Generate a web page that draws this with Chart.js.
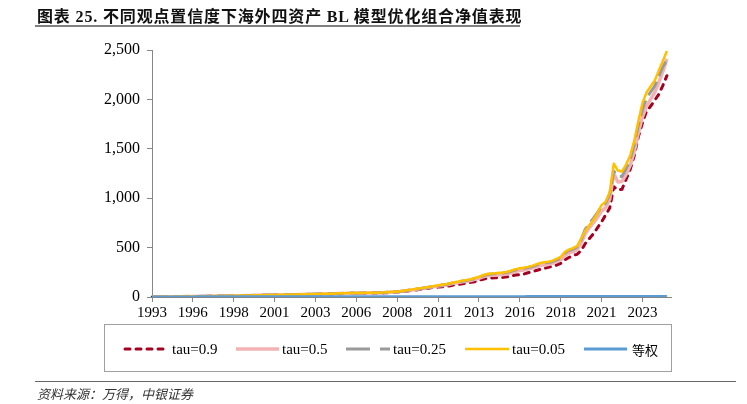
<!DOCTYPE html>
<html>
<head>
<meta charset="utf-8">
<script src="https://cdn.jsdelivr.net/npm/chart.js@4.4.1/dist/chart.umd.min.js"></script>
<style>
  html,body{margin:0;padding:0;background:#fff;}
  #wrap{position:relative;width:747px;height:404px;overflow:hidden;}
  #c{position:absolute;left:0;top:0;}
  #title{position:absolute;left:37px;top:3px;font:bold 16px "Liberation Serif","Noto Sans CJK SC",serif;color:#111;white-space:nowrap;letter-spacing:0.85px;}
  #tline{position:absolute;left:35px;top:25px;width:485px;height:2px;background:#808080;}
  #sline{position:absolute;left:35px;top:381px;width:701px;height:1px;background:#666;}
  #src{position:absolute;left:37px;top:384px;font:italic 13px "Noto Sans CJK SC",sans-serif;color:#333;white-space:nowrap;}
</style>
</head>
<body>
<div id="wrap">
  <canvas id="c" width="747" height="404"></canvas>
  <div id="title">图表 25. 不同观点置信度下海外四资产 BL 模型优化组合净值表现</div>
  <div id="tline"></div>
  <div id="sline"></div>
  <div id="src">资料来源：万得，中银证券</div>
</div>
<script>
// Quarterly categories, 1993Q3 .. 2025Q2 (last one has no data)
const startYear = 1993, startQuarter = 3, nCategories = 128;
const categories = [];
for (let i = 0; i < nCategories; i++) {
  const q = startQuarter - 1 + i;
  categories.push((startYear + Math.floor(q / 4)) + 'Q' + (q % 4 + 1));
}
const labelEvery = 10;
const yTicks = [0, 500, 1000, 1500, 2000, 2500];

const tau09 = [
  1,1.2,1.5,1.8,2.2,2.5,3,3.4,3.9,4.4,
  5,5.6,6.2,6.8,7.4,8.1,8.8,9.5,10.2,10.8,
  11.5,12.2,12.8,13.5,14.4,15.3,16.2,16.7,17.6,18,
  19,19.8,20.3,20.7,21.6,22.5,23.4,24.3,25.2,26,
  27,28,28.8,29.7,30.6,32,33.3,34.2,35.5,37,
  36,37,38,39,40,40,41,42,45,47,
  50,54,58,63,68,74,79,85,92,99,
  100,103,106,114,122,128,135,141,148,155,
  168,180,190,193,194,196,199,205,214,222,
  226,232,245,255,268,280,290,300,310,322,
  340,375,400,420,432,470,540,590,640,700,
  760,830,900,1115,1085,1090,1190,1290,1430,1620,
  1760,1880,1930,1990,2050,2140,2240
];
const tau05 = [
  1,1.25,1.55,1.9,2.3,2.7,3.1,3.6,4.1,4.7,
  5.2,5.9,6.6,7.1,7.8,8.6,9.3,10,10.7,11.4,
  12.2,12.8,13.5,14.3,15.2,16.2,17.1,17.6,18.5,19,
  20,20.9,21.4,21.9,22.8,23.8,24.7,25.7,26.6,27.6,
  28.5,29.5,30.4,31.4,32.3,33.7,35,36,37.5,39,
  38,39,40,41,42,42,43,45,48,50,
  52,57,62,68,73,79,85,91,98,105,
  110,116,121,130,140,146,153,160,167,178,
  190,203,215,219,221,225,228,235,247,260,
  267,273,282,292,305,318,325,330,340,357,
  375,420,445,460,478,545,640,700,750,805,
  870,905,990,1250,1165,1170,1240,1330,1470,1660,
  1820,1930,2000,2070,2170,2280,2410
];
const tau025 = [
  1,1.3,1.6,2,2.35,2.75,3.2,3.7,4.2,4.8,
  5.4,6.1,6.8,7.4,8,8.8,9.6,10.3,11.1,11.8,
  12.5,13.2,13.9,14.7,15.7,16.7,17.6,18.1,19.1,19.6,
  20.6,21.6,22,22.5,23.5,24.5,25.5,26.5,27.4,28.4,
  29.4,30.4,31.4,32.3,33.3,34.8,36.3,37.2,38.7,40.2,
  39,40,41,42,43,43,44,46,49,51,
  53,59,64,70,76,83,88,95,102,110,
  115,121,127,137,147,153,161,168,176,188,
  200,215,228,233,235,240,243,250,262,276,
  284,290,299,308,323,338,345,349,360,377,
  395,445,470,485,505,578,685,745,795,855,
  915,950,1040,1275,1220,1220,1300,1390,1545,1740,
  1900,2010,2075,2135,2235,2330,2400
];
const tau005 = [
  1,1.3,1.6,2,2.4,2.8,3.3,3.8,4.3,4.9,
  5.5,6.2,6.9,7.5,8.2,9,9.8,10.5,11.3,12,
  12.8,13.5,14.2,15,16,17,18,18.5,19.5,20,
  21,22,22.5,23,24,25,26,27,28,29,
  30,31,32,33,34,35.5,37,38,39.5,41,
  40,41,42,43,44,44,45,47,50,52,
  54,60,66,72,78,85,90,97,104,112,
  118,124,130,140,150,157,165,172,180,192,
  205,220,233,238,240,245,248,255,268,282,
  290,296,305,315,330,345,352,356,368,385,
  405,455,480,495,515,590,670,725,780,850,
  930,965,1060,1350,1280,1270,1340,1430,1580,1780,
  1960,2070,2130,2190,2290,2390,2490
];
const equalWeight = [
  1.00,1.02,1.05,1.08,1.1,1.12,1.15,1.18,1.2,1.22,
  1.25,1.27,1.3,1.32,1.35,1.37,1.4,1.42,1.45,1.47,
  1.5,1.52,1.55,1.57,1.6,1.6,1.62,1.65,1.67,1.7,
  1.72,1.75,1.77,1.8,1.82,1.85,1.88,1.9,1.93,1.95,
  1.98,2,2.03,2.05,2.08,2.1,2.12,2.15,2.18,2.1,
  2.0,2.05,2.1,2.15,2.2,2.25,2.3,2.35,2.3,2.1,
  2.0,2.1,2.2,2.3,2.4,2.5,2.55,2.6,2.65,2.7,
  2.75,2.8,2.85,2.9,2.95,3,3.05,3.1,3.15,3.2,
  3.25,3.3,3.35,3.4,3.4,3.45,3.5,3.55,3.6,3.65,
  3.7,3.75,3.8,3.85,3.9,3.95,4,4.05,4.1,4.15,
  4.2,4.3,4.4,4.45,4.5,4.6,4.7,4.8,4.9,5,
  5.1,5.2,5.3,5.5,5.3,5.2,5.3,5.4,5.5,5.6,
  5.7,5.8,5.9,6,6.1,6.2,6.3
];

const seriesNames = ['tau=0.9','tau=0.5','tau=0.25','tau=0.05','等权'];

const axisColor = '#868686';
const serif = '"Liberation Serif", "Times New Roman", serif';

const datasets = [
  {label: seriesNames[0], data: tau09, borderColor: '#A50021', borderWidth: 3, borderDash: [5,6], borderCapStyle: 'round', order: 5},
  {label: seriesNames[1], data: tau05, borderColor: '#F2B3B3', borderWidth: 3.5, order: 4},
  {label: seriesNames[2], data: tau025, borderColor: '#9A9A9A', borderWidth: 3, borderDash: [16,6], order: 3},
  {label: seriesNames[3], data: tau005, borderColor: '#FFC000', borderWidth: 2.5, order: 2},
  {label: seriesNames[4], data: equalWeight, borderColor: '#5B9BD5', borderWidth: 3, order: 1}
].map(d => Object.assign({pointRadius: 0, pointHoverRadius: 0, tension: 0, fill: false, borderJoinStyle: 'round'}, d));

const legendPlugin = {
  id: 'boxLegend',
  afterDraw(chart) {
    const ctx = chart.ctx;
    ctx.save();
    ctx.strokeStyle = '#A0A0A0';
    ctx.lineWidth = 1;
    ctx.strokeRect(104.5, 324.5, 567, 47);
    const items = [
      {x0: 125, x1: 166, tx: 172},
      {x0: 236, x1: 279, tx: 282},
      {x0: 346, x1: 390, tx: 393},
      {x0: 465, x1: 509, tx: 512},
      {x0: 584, x1: 627, tx: 632}
    ];
    const y = 349;
    chart.data.datasets.forEach((ds, i) => {
      const it = items[i];
      ctx.beginPath();
      ctx.strokeStyle = ds.borderColor;
      ctx.lineWidth = ds.borderWidth;
      ctx.setLineDash(i === 2 ? [24, 10] : (ds.borderDash || []));
      ctx.lineCap = ds.borderCapStyle || 'butt';
      ctx.moveTo(it.x0, y);
      ctx.lineTo(it.x1, y);
      ctx.stroke();
      ctx.setLineDash([]);
      ctx.fillStyle = '#000';
      ctx.textBaseline = 'middle';
      ctx.textAlign = 'left';
      ctx.font = (i === 4 ? '13px "Noto Sans CJK SC", sans-serif' : '15px ' + serif);
      ctx.fillText(ds.label, it.tx, y + 1);
    });
    ctx.restore();
  }
};

new Chart(document.getElementById('c'), {
  type: 'line',
  data: {labels: categories, datasets: datasets},
  plugins: [legendPlugin],
  options: {
    responsive: false,
    animation: false,
    events: [],
    layout: {padding: {left: 0, right: 76, top: 50, bottom: 85}},
    plugins: {legend: {display: false}, tooltip: {enabled: false}, title: {display: false}},
    scales: {
      x: {
        type: 'category',
        offset: false,
        grid: {display: true, drawOnChartArea: false, drawTicks: true, tickLength: 5, color: axisColor, offset: false},
        border: {display: true, color: axisColor, width: 1},
        ticks: {
          autoSkip: false, maxRotation: 0, minRotation: 0, padding: 2,
          color: '#000', font: {family: serif, size: 15},
          callback: function(v) { return this.getLabelForValue(v).slice(0, 4); }
        },
        afterBuildTicks: s => { s.ticks = s.ticks.filter(t => t.value % labelEvery === 0 && t.value < categories.length - 1); },
        afterFit: s => { s.height = 22; }
      },
      y: {
        min: yTicks[0], max: yTicks[yTicks.length - 1],
        grid: {display: true, drawOnChartArea: false, drawTicks: true, tickLength: 5, color: axisColor},
        border: {display: true, color: axisColor, width: 1},
        ticks: {
          stepSize: yTicks[1] - yTicks[0], padding: 7, color: '#000',
          font: {family: serif, size: 16},
          callback: v => v.toLocaleString('en-US')
        },
        afterFit: s => { s.width = 152; }
      }
    }
  }
});
</script>
</body>
</html>
